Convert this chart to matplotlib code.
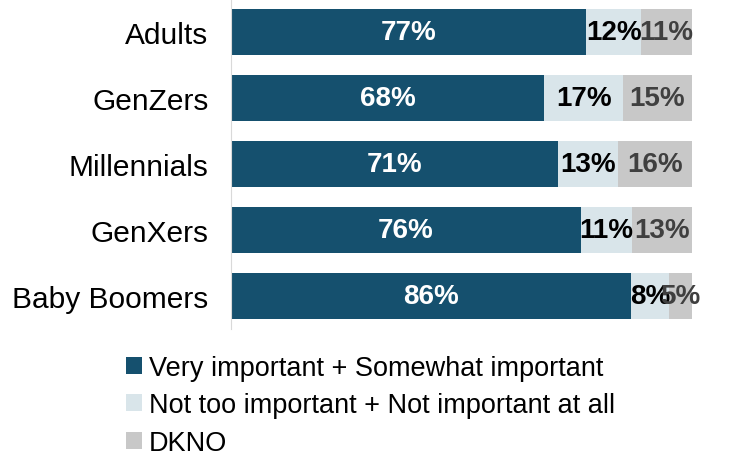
import matplotlib.pyplot as plt
import numpy as np

plt.rcParams["font.family"] = ["Liberation Sans", "DejaVu Sans"]

groups = ["Adults", "GenZers", "Millennials", "GenXers", "Baby Boomers"]
important = [77, 68, 71, 76, 86]
not_important = [12, 17, 13, 11, 8]
dkno = [11, 15, 16, 13, 5]
series_names = ["Very important + Somewhat important",
                "Not too important + Not important at all",
                "DKNO"]

colors = ["#15506E", "#D9E5EA", "#C8C8C8"]
text_colors = ["white", "black", "#404040"]

data = np.array([important, not_important, dkno], dtype=float)
shares = data / data.sum(axis=0) * 100  # 100% stacked

fig = plt.figure(figsize=(7.3, 4.6), dpi=100)
ax = fig.add_axes([0.316, 0.283, 0.632, 0.717])

y = np.arange(len(groups))
left = np.zeros(len(groups))
handles = []
for i in range(3):
    bars = ax.barh(y, shares[i], left=left, height=0.7, color=colors[i],
                   label=series_names[i])
    handles.append(bars)
    for j in range(len(groups)):
        ax.text(left[j] + shares[i][j] / 2, y[j], f"{int(data[i][j])}%",
                ha="center", va="center", fontsize=20, fontweight="bold",
                color=text_colors[i])
    left += shares[i]

ax.set_xlim(0, 100)
ax.set_ylim(len(groups) - 0.5, -0.5)
ax.set_yticks(y)
ax.set_yticklabels(groups, fontsize=21.5)
ax.tick_params(axis="y", length=0, pad=16)
ax.set_xticks([])
for s in ["top", "right", "bottom"]:
    ax.spines[s].set_visible(False)
ax.spines["left"].set_color("#D9D9D9")

fig.legend(handles=handles, loc="upper left", bbox_to_anchor=(0.172, 0.226),
           frameon=False, fontsize=19.5, handlelength=0.6, handleheight=0.6,
           handletextpad=0.25, labelspacing=0.42, borderaxespad=0,
           borderpad=0)

fig.savefig("out.png", dpi=100)
